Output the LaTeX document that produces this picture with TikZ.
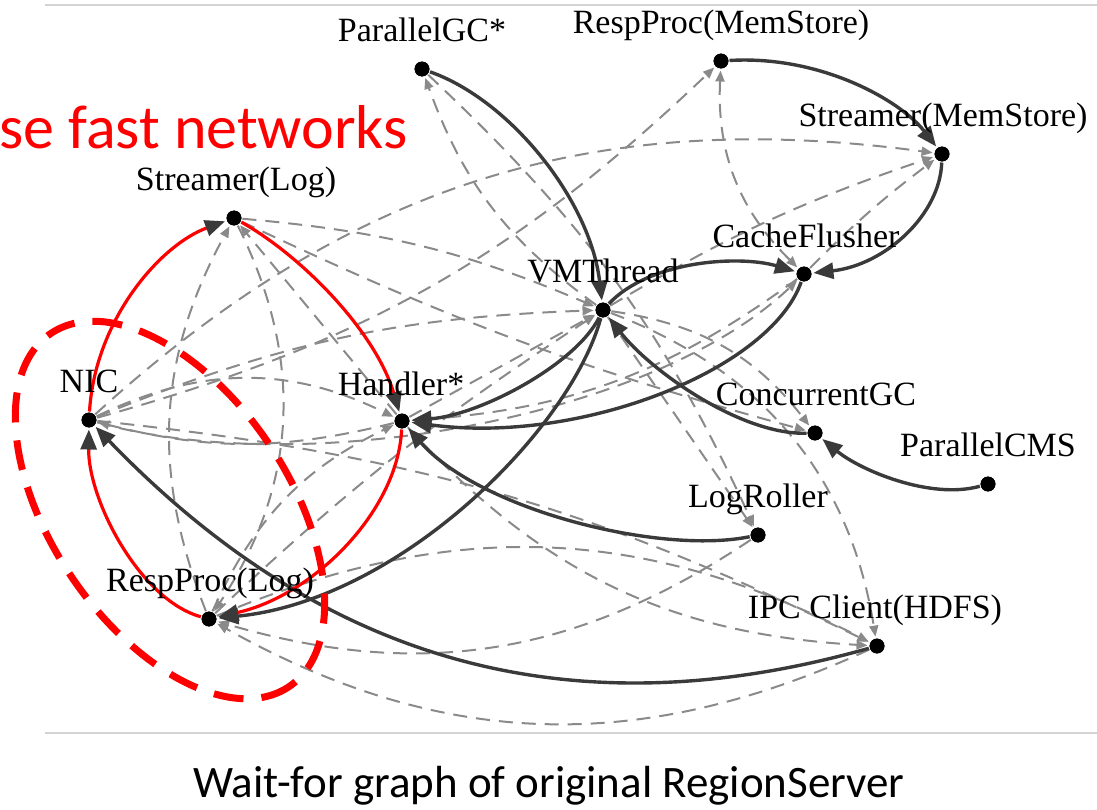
\documentclass[tikz,border=0pt]{standalone}
\usepackage{fontspec}
\setmainfont{Liberation Serif}
\newfontfamily\capfont{Carlito}
\usetikzlibrary{arrows.meta}
\definecolor{edgedark}{HTML}{3A3A3A}
\definecolor{edgegrey}{HTML}{8A8A8A}
\definecolor{rulegrey}{HTML}{D4D4D4}
\begin{document}
\begin{tikzpicture}[x=1pt,y=-1pt,
  dot/.style={circle,fill=black,draw=white,line width=1pt,inner sep=0pt,minimum size=16pt},
  lbl/.style={anchor=base,font=\fontsize{34}{37}\selectfont,inner sep=0pt},
  strong/.style={draw=edgedark,line width=3.4pt,-{Triangle[length=20pt,width=16pt]},shorten >=1pt},
  loopedge/.style={draw=red,line width=3.2pt,-{Triangle[length=20pt,width=16pt,color=edgedark]},shorten >=1pt},
  wait/.style={draw=edgegrey,line width=2pt,dash pattern=on 14pt off 9pt,-{Triangle[length=11pt,width=9pt]},shorten >=1pt},
  waitboth/.style={wait,{Triangle[length=11pt,width=9pt]}-{Triangle[length=11pt,width=9pt]},shorten <=1pt},
  ring/.style={draw=red,line width=7pt,dash pattern=on 30pt off 18pt},
  rule/.style={draw=rulegrey,line width=1.5pt}]
\clip (0,0) rectangle (1097,809);
\useasboundingbox (0,0) rectangle (1097,809);

% thread nodes
\node[dot] (pgc)  at (422,69)  {};
\node[dot] (rpm)  at (721,61)  {};
\node[dot] (smem) at (942,154) {};
\node[dot] (slog) at (234,218) {};
\node[dot] (cf)   at (804,274) {};
\node[dot] (vmt)  at (603,310) {};
\node[dot] (nic)  at (89,420)  {};
\node[dot] (hdl)  at (402,421) {};
\node[dot] (cgc)  at (815,433) {};
\node[dot] (pcms) at (988,484) {};
\node[dot] (lr)   at (758,535) {};
\node[dot] (rpl)  at (209,619) {};
\node[dot] (ipc)  at (877,646) {};

% rules and caption
\draw[rule] (45,5) -- (1097,5);
\draw[rule] (45,733) -- (1097,733);
\node[anchor=base,inner sep=0pt,font=\capfont\fontsize{45}{50}\selectfont] (cap) at (549,797) {Wait-for graph of original RegionServer};
\node[anchor=base east,inner sep=0pt,text=red,font=\capfont\fontsize{62}{70}\selectfont] (note) at (408,148) {se fast networks};

% weak wait-for edges
\draw[wait] (vmt) to[bend left=17] (pgc);
\draw[wait] (nic) to[bend right=14] (rpm);
\draw[waitboth] (rpm) to[bend right=24] (cf);
\draw[wait] (nic) to[bend left=25] (smem);
\draw[wait] (cf) to[bend left=4] (smem);
\draw[wait] (vmt) to[bend left=6] (smem);
\draw[wait] (slog) to[bend left=9] (vmt);
\draw[wait] (slog) to[bend right=5] (cgc);
\draw[wait] (rpl) to[bend left=25] (slog);
\draw[wait] (slog) to[bend left=30] (rpl);
\draw[wait] (hdl) to (slog);
\draw[wait] (nic) to[bend left=26] (hdl);
\draw[wait] (hdl) to[bend left=14] (nic);
\draw[wait] (nic) to[bend left=10] (ipc);
\draw[wait] (rpl) to[bend left=20] (hdl);
\draw[wait] (rpl) to[bend left=5] (vmt);
\draw[wait] (nic) to[bend left=10] (vmt);
\draw[wait] (hdl) to (vmt);
\draw[wait] (vmt) to[bend left=22] (cgc);
\draw[wait] (vmt) to (lr);
\draw[wait] (vmt) to[bend left=30] (ipc);
\draw[wait] (hdl) to[bend right=22] (ipc);
\draw[wait] (pgc) to[bend left=11] (lr);
\draw[wait] (rpl) to[bend left=25] (ipc);
\draw[wait] (ipc) to[bend left=27] (rpl);
\draw[wait] (lr) to[bend left=25] (rpl);
\draw[wait] (cf) to[bend left=16] (hdl);
\draw[wait] (nic) .. controls (300,480) and (650,420) .. (cf);

% strong wait-for edges
\draw[strong] (pgc) .. controls (510,100) and (590,200) .. (vmt);
\draw[strong] (rpm) .. controls (820,55) and (900,100) .. (smem);
\draw[strong] (smem) .. controls (940,215) and (885,265) .. (cf);
\draw[strong] (vmt) .. controls (650,260) and (740,255) .. (cf);
\draw[strong] (vmt) .. controls (575,365) and (480,415) .. (hdl);
\draw[strong] (cf) .. controls (770,370) and (580,445) .. (hdl);
\draw[strong] (vmt) .. controls (570,430) and (400,600) .. (rpl);
\draw[strong] (lr) .. controls (660,555) and (480,510) .. (hdl);
\draw[strong] (cgc) .. controls (740,435) and (650,370) .. (vmt);
\draw[strong] (pcms) .. controls (930,500) and (860,470) .. (cgc);
\draw[strong] (ipc) .. controls (580,730) and (330,670) .. (nic);

% the deadlock cycle
\draw[loopedge] (nic) .. controls (95,320) and (160,245) .. (slog);
\draw[loopedge] (slog) .. controls (300,255) and (375,330) .. (hdl);
\draw[loopedge] (hdl) .. controls (398,510) and (315,595) .. (rpl);
\draw[loopedge] (rpl) .. controls (140,600) and (88,500) .. (nic);

% highlighted group
\draw[ring,rotate around={-56:(170,510)}] (170,510) ellipse [x radius=213, y radius=119];

% redraw dots above the edges
\foreach \n in {pgc,rpm,smem,slog,cf,vmt,nic,hdl,cgc,pcms,lr,rpl,ipc}
  \fill[black] (\n) circle (7.5pt);

% thread names
\node[lbl] (pgcl)  at (422,41)  {ParallelGC*};
\node[lbl] (rpml)  at (721,33)  {RespProc(MemStore)};
\node[lbl] (smeml) at (943,126) {Streamer(MemStore)};
\node[lbl] (slogl) at (236,190) {Streamer(Log)};
\node[lbl] (cfl)   at (806,247) {CacheFlusher};
\node[lbl] (vmtl)  at (603,282) {VMThread};
\node[lbl] (nicl)  at (89,392)  {NIC};
\node[lbl] (hdll)  at (401,395) {Handler*};
\node[lbl] (cgcl)  at (816,405) {ConcurrentGC};
\node[lbl] (pcmsl) at (988,456) {ParallelCMS};
\node[lbl] (lrl)   at (758,507) {LogRoller};
\node[lbl] (rpll)  at (210,591) {RespProc(Log)};
\node[lbl] (ipcl)  at (875,618) {IPC Client(HDFS)};
\end{tikzpicture}
\end{document}
